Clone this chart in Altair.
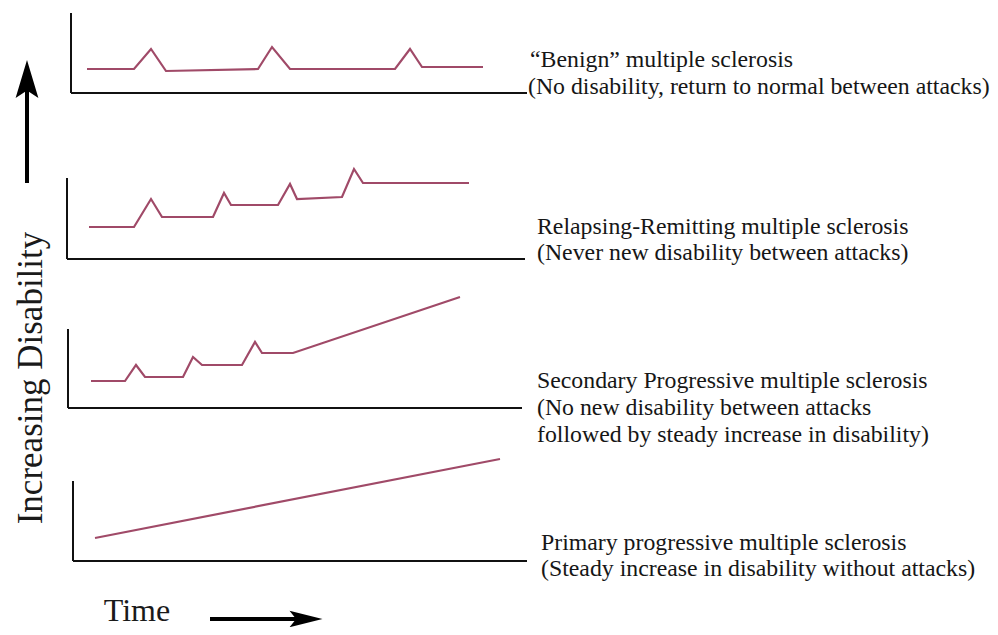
import altair as alt
import pandas as pd

# ---- curve data (time position, disability level) ----
benign_x = [87, 134, 151, 166, 258, 272, 290, 395, 410, 422, 483]
benign_y = [69, 69, 49, 71, 69, 47, 69, 69, 49, 67, 67]

rr_x = [89, 134, 151, 162, 213, 224, 231, 278, 290, 297, 342, 354, 363, 469]
rr_y = [227, 227, 199, 217, 217, 193, 205, 205, 184, 199, 197, 169, 183, 183]

sp_x = [91, 125, 136, 145, 183, 193, 202, 242, 255, 262, 293, 460]
sp_y = [381, 381, 365, 377, 377, 357, 365, 365, 342, 353, 353, 297]

pp_x = [95, 500]
pp_y = [538, 459]

# panel frames (axis lines)
frame_vx = [71, 67, 68, 73]
frame_vtop = [13, 178, 329, 481]
frame_base = [93, 259, 408, 561]
frame_hend = [527, 525, 522, 527]

# labels
labels = [
    "\u201cBenign\u201d multiple sclerosis",
    "(No disability, return to normal between attacks)",
    "Relapsing-Remitting multiple sclerosis",
    "(Never new disability between attacks)",
    "Secondary Progressive multiple sclerosis",
    "(No new disability between attacks",
    "followed by steady increase in disability)",
    "Primary progressive multiple sclerosis",
    "(Steady increase in disability without attacks)",
]
label_x = [530, 528, 537, 537, 537, 537, 537, 541, 541]
label_y = [60, 87, 227, 253, 381, 408, 435, 543, 569]

rows = []
for name, xs_, ys_ in [("benign", benign_x, benign_y), ("rr", rr_x, rr_y),
                       ("sp", sp_x, sp_y), ("pp", pp_x, pp_y)]:
    for i, (a, b) in enumerate(zip(xs_, ys_)):
        rows.append({"series": name, "order": i, "x": a, "y": b})
curves = pd.DataFrame(rows)

vframes = pd.DataFrame({"x": frame_vx, "y": frame_vtop, "y2": frame_base})
hframes = pd.DataFrame({"x": frame_vx, "x2": frame_hend, "y": frame_base})
texts = pd.DataFrame({"label": labels, "x": label_x, "y": label_y})

xs = alt.Scale(domain=[8, 990], nice=False, zero=False)
ys = alt.Scale(domain=[8, 627], nice=False, zero=False, reverse=True)
X = lambda f: alt.X(f, type="quantitative", scale=xs, axis=None)
Y = lambda f: alt.Y(f, type="quantitative", scale=ys, axis=None)

lines = alt.Chart(curves).mark_line(color="#a04a68", strokeWidth=2.2, strokeJoin="miter").encode(
    x=X("x"), y=Y("y"), detail="series:N", order="order:Q")

vrules = alt.Chart(vframes).mark_rule(color="#111", strokeWidth=2).encode(
    x=X("x"), y=Y("y"), y2="y2")
hrules = alt.Chart(hframes).mark_rule(color="#111", strokeWidth=2).encode(
    x=X("x"), x2="x2", y=Y("y"))

txt = alt.Chart(texts).mark_text(
    align="left", baseline="middle", font="Liberation Serif", fontSize=23.8, color="#161616"
).encode(x=X("x"), y=Y("y"), text="label:N")

# axis titles and arrows
ylab = alt.Chart(pd.DataFrame({"t": ["Increasing Disability"], "x": [31], "y": [378]})).mark_text(
    angle=270, align="center", baseline="middle", font="Liberation Serif", fontSize=35, color="#1a1a1a"
).encode(x=X("x"), y=Y("y"), text="t:N")
xlab = alt.Chart(pd.DataFrame({"t": ["Time"], "x": [137], "y": [611]})).mark_text(
    align="center", baseline="middle", font="Liberation Serif", fontSize=32, color="#1a1a1a"
).encode(x=X("x"), y=Y("y"), text="t:N")

up_shaft = alt.Chart(pd.DataFrame({"x": [27], "y": [85], "y2": [183]})).mark_rule(
    color="#000", strokeWidth=4).encode(x=X("x"), y=Y("y"), y2="y2")
up_head = alt.Chart(pd.DataFrame({"x": [27], "y": [79]})).mark_point(
    shape="M0,-1L0.6,1L0,0.6L-0.6,1Z", filled=True, color="#000", opacity=1, size=1444
).encode(x=X("x"), y=Y("y"))

rt_shaft = alt.Chart(pd.DataFrame({"x": [210], "x2": [300], "y": [619]})).mark_rule(
    color="#000", strokeWidth=4).encode(x=X("x"), x2="x2", y=Y("y"))
rt_head = alt.Chart(pd.DataFrame({"x": [306], "y": [619]})).mark_point(
    shape="M1,0L-1,-0.5L-0.6,0L-1,0.5Z", filled=True, color="#000", opacity=1, size=1089
).encode(x=X("x"), y=Y("y"))

chart = alt.layer(vrules, hrules, lines, txt, ylab, xlab, up_shaft, up_head, rt_shaft, rt_head).properties(
    width=982, height=619, padding=0,
    autosize=alt.AutoSizeParams(type="none"),
).configure_view(stroke=None)

chart.save("out.html", embed_options={"renderer": "svg", "actions": False})
